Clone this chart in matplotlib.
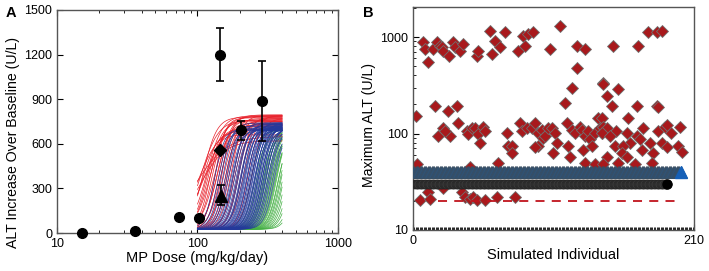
import numpy as np
import matplotlib
matplotlib.use("Agg")
import matplotlib.pyplot as plt
from matplotlib.ticker import MultipleLocator, NullFormatter

plt.rcParams['font.family'] = ['Liberation Sans', 'DejaVu Sans']

# ---- Panel A: observed ALT increase vs MP dose ----
obs_dose = [15, 36, 74, 102, 145, 205, 290]
obs_alt = [0, 15, 110, 100, 1200, 690, 885]
obs_lo = [0, 15, 110, 100, 1025, 628, 617]
obs_hi = [0, 15, 110, 100, 1378, 752, 1160]

dia_dose, dia_alt = [145], [561]
tri_dose, tri_alt, tri_lo, tri_hi = [148], [247], [186], [321]

# simulated individuals: half-max dose, plateau, steepness
red_ec50 = [98, 102, 104, 106, 108, 110, 112, 114, 117, 120, 122, 125, 128, 131, 134,
            137, 140, 143, 146, 150, 154, 158, 163, 168, 174, 180, 186, 192, 198, 205,
            215, 228, 245]
red_top = [650, 700, 620, 760, 690, 780, 730, 660, 790, 750, 700, 785, 760, 720, 775,
           740, 795, 760, 730, 785, 750, 720, 770, 760, 790, 740, 770, 720, 780, 750,
           790, 740, 770]
red_hill = [4, 6, 5, 7, 8, 9, 6, 10, 8, 9, 11, 8, 10, 9, 12, 10, 9, 11, 10, 12, 10, 11,
            12, 10, 11, 12, 10, 12, 11, 12, 10, 12, 11]

blue_ec50 = [132, 140, 146, 152, 157, 162, 167, 172, 176, 180, 184, 188, 192, 196, 200,
             203, 206, 210, 213, 216, 220, 223, 226, 230, 233, 236, 240, 243, 246, 250,
             253, 256, 260, 263, 266, 270, 273, 276, 280, 284, 288, 292, 296, 300, 305,
             310, 316, 322, 330, 340, 352]
blue_top = [700, 690, 720, 740, 700, 710, 730, 690, 700, 740, 720, 700, 710, 730, 690,
            700, 740, 720, 700, 710, 730, 700, 720, 690, 740, 710, 700, 720, 700, 730,
            690, 710, 740, 700, 720, 700, 730, 710, 690, 720, 700, 740, 700, 710, 690,
            720, 700, 690, 700, 680, 690]
blue_hill = [12] * len(blue_ec50)

green_ec50 = [240, 255, 268, 278, 286, 294, 300, 306, 312, 318, 324, 330, 336, 342, 348,
              354, 360, 366, 372, 378, 385, 392, 400, 410, 420, 432, 445, 460, 480, 500]
green_top = [690, 660, 700, 680, 650, 690, 670, 700, 660, 690, 680, 650, 700, 670, 690,
             660, 680, 700, 650, 690, 670, 680, 660, 690, 670, 680, 660, 690, 670, 680]
green_hill = [12] * len(green_ec50)

sim_base = 25
sim_dose = np.logspace(2, np.log10(400), 120)

# ---- Panel B: maximum ALT per simulated individual ----
ind_x = [7.2, 9.0, 11.5, 15.2, 17.7, 20.2, 21.9, 22.7, 27.1, 29.6, 31.4, 35.1, 37.6, 47.6,
         48.8, 57.5, 58.8, 61.3, 65.0, 68.7,
         2.2, 16.4, 18.9, 22.7, 26.4, 27.6, 23.9, 32.6, 33.9, 40.1, 41.3, 43.8, 46.3, 48.8,
         50.0, 52.5, 53.8, 70.0, 71.2,
         2.7, 5.2, 11.5, 12.7, 22.7, 36.4, 38.8, 42.6, 45.1, 47.6, 53.8, 62.5, 63.8, 42.6,
         82.4, 86.2, 89.9, 78.7, 83.7, 102.3, 109.8, 122.3, 128.5, 122.3, 118.5, 113.5, 142.2,
         73.7, 73.7, 79.9, 81.2, 84.9, 88.6, 91.1, 93.6, 96.1, 97.4, 98.6, 101.1, 103.6,
         106.1, 107.3, 93.6, 91.1, 104.8, 114.8, 116.0, 117.3, 118.5, 121.0, 124.7, 126.0,
         127.2, 128.5, 131.0, 132.2, 133.5, 136.0, 138.5, 139.7, 142.2, 141.0, 128.5, 136.0,
         76.2,
         149.6, 168.3, 175.8, 182.0, 185.8,
         142.2, 153.4, 144.7, 148.4, 167.1, 182.0, 183.3, 160.9, 140.9, 142.2, 144.7, 152.1,
         159.6, 167.1, 172.1, 183.3, 188.2, 189.5, 193.2, 199.4, 140.9, 147.2, 169.6, 177.0,
         162.1, 150.9, 157.1, 185.8, 189.5, 198.2, 170.8, 179.5, 144.7, 155.9, 201.0, 153.4,
         165.8, 178.3, 142.2, 159.6]
ind_alt = [881, 750, 545, 750, 881, 813, 780, 721, 640, 881, 780, 721, 846, 640,
           721, 1164, 666, 915, 780, 1120,
           152, 193, 94, 115, 171, 94, 106, 193, 129, 106, 98, 115, 115, 98,
           80, 117, 106, 102, 74,
           48, 20.5, 25, 21, 27, 25, 22, 21, 22, 20.5, 20.5, 22, 49, 45,
           1030, 1075, 1120, 721, 813, 750, 1312, 813, 750, 483, 299, 209, 337,
           74, 63, 129, 106, 115, 115, 129, 102, 110, 90, 94, 115, 115,
           102, 80, 74, 72, 63, 129, 74, 57, 110, 102, 117, 110,
           68, 94, 106, 87, 74, 102, 146, 115, 117, 102, 50, 48,
           22,
           813, 813, 1120, 1120, 1164,
           330, 290, 245, 193, 193, 193, 189, 146, 146, 117, 115, 106,
           102, 94, 115, 106, 117, 124, 102, 117, 102, 94, 87, 80,
           80, 74, 74, 80, 72, 74, 68, 63, 57, 63, 65, 49,
           48, 49, 48, 57]

tri_level = 40      # blue triangles, every individual
circ_level = 30     # black circles
ref_level = 20      # red dashed reference
n_tri = 200
n_circ = 190

fig = plt.figure(figsize=(7.09, 2.71), dpi=100)
axA = fig.add_axes([0.0804, 0.1402, 0.3963, 0.8229])
axB = fig.add_axes([0.5825, 0.1513, 0.3963, 0.8229])


def hill(ec50, top, h):
    return sim_base + (top - sim_base) * sim_dose**h / (ec50**h + sim_dose**h)


for e, t, h in zip(green_ec50, green_top, green_hill):
    axA.plot(sim_dose, hill(e, t, h), color='#45b045', lw=0.5, zorder=1)
for e, t, h in zip(red_ec50, red_top, red_hill):
    axA.plot(sim_dose, hill(e, t, h), color='#e8202a', lw=0.5, zorder=2)
for e, t, h in zip(blue_ec50, blue_top, blue_hill):
    axA.plot(sim_dose, hill(e, t, h), color='#24399c', lw=0.5, zorder=3)

obs_err = [np.array(obs_alt) - np.array(obs_lo), np.array(obs_hi) - np.array(obs_alt)]
axA.errorbar(obs_dose, obs_alt, yerr=obs_err, fmt='o', color='black', ms=7,
             capsize=3, elinewidth=1.2, capthick=1.2, zorder=5, clip_on=False)
axA.plot(dia_dose, dia_alt, 'D', color='black', ms=6.5, zorder=5)
axA.errorbar(tri_dose, tri_alt, yerr=[[tri_alt[0] - tri_lo[0]], [tri_hi[0] - tri_alt[0]]],
             fmt='^', color='black', ms=9, capsize=3, elinewidth=1.2, capthick=1.2, zorder=5)

axA.set_xscale('log')
axA.set_xlim(10, 1000)
axA.set_ylim(0, 1500)
axA.set_yticks([0, 300, 600, 900, 1200, 1500])
axA.set_xticks([10, 100, 1000])
axA.set_xticklabels(['10', '100', '1000'])
axA.xaxis.set_minor_formatter(NullFormatter())
axA.tick_params(which='both', direction='in', top=True, right=True, labelsize=9)
axA.tick_params(which='major', length=4)
axA.tick_params(which='minor', length=2)
axA.set_xlabel('MP Dose (mg/kg/day)', fontsize=10.5, labelpad=1)
axA.set_ylabel('ALT Increase Over Baseline (U/L)', fontsize=10.2)
axA.yaxis.set_label_coords(-0.132, 0.408)

# panel B
axB.plot(ind_x, ind_alt, 'D', color='#a8191c', mec='#707070', mew=0.6, ms=6, zorder=2)
tx = np.arange(1, n_tri + 1)
axB.plot(tx, np.full(n_tri, tri_level), '^', color='#2e5478', mec='#3a4d60', mew=0.4,
         ms=8, zorder=3)
axB.plot([tx[-1]], [tri_level], '^', color='#1560b8', ms=8, zorder=4)
cx = np.arange(1, n_circ + 1)
axB.plot(np.append(cx, cx[-1] + 3), np.full(n_circ + 1, circ_level), '-', color='black',
         lw=1, zorder=3)
axB.plot(cx, np.full(n_circ, circ_level), 'o', color='#3a3a3a', mec='#222222', mew=0.4,
         ms=6.5, zorder=4)
axB.plot([cx[-1]], [circ_level], 'o', color='black', ms=6.5, zorder=5)
axB.plot([19, 200], [ref_level, ref_level], '--', color='#c0141c', lw=1.3,
         dashes=(5, 4), zorder=3)

axB.set_yscale('log')
axB.set_ylim(10, 2050)
axB.set_xlim(0, 210)
axB.set_xticks([0, 210])
axB.xaxis.set_minor_locator(MultipleLocator(1))
axB.set_yticks([10, 100, 1000])
axB.set_yticklabels(['10', '100', '1000'])
axB.yaxis.set_minor_formatter(NullFormatter())
axB.tick_params(which='both', direction='in', labelsize=9)
axB.tick_params(which='major', length=4)
axB.tick_params(axis='x', which='minor', length=2.5, width=0.6)
axB.tick_params(axis='y', which='minor', length=2.5)
axB.set_xlabel('Simulated Individual', fontsize=10.5, labelpad=1)
axB.set_ylabel('Maximum ALT (U/L)', fontsize=10.2)
axB.yaxis.set_label_coords(-0.132, 0.471)

for ax in (axA, axB):
    for s in ax.spines.values():
        s.set_color('#555555')
        s.set_linewidth(1.0)

fig.text(0.008, 0.952, 'A', fontsize=10.5, fontweight='bold', ha='left', va='center')
fig.text(0.512, 0.952, 'B', fontsize=10.5, fontweight='bold', ha='left', va='center')

fig.savefig('out.png', dpi=100)
